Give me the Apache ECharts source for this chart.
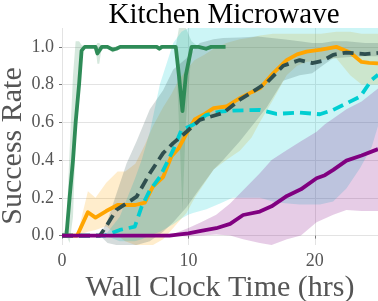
<!DOCTYPE html>
<html><head><meta charset="utf-8">
<script src="https://cdn.jsdelivr.net/npm/echarts@6/dist/echarts.min.js"></script>
<style>html,body{margin:0;padding:0;background:#fff}#c{width:378px;height:301px}</style>
</head><body><div id="c"></div>
<script>
// ---- data ----
const titleText = "Kitchen Microwave";
const xName = "Wall Clock Time (hrs)";
const yName = "Success Rate";
const yTicks = [0, 0.2, 0.4, 0.6, 0.8, 1.0];
const xTicks = [0, 10, 20];

const greenX     = [0, 0.35, 0.6, 0.87, 1.08, 1.35, 1.55, 1.8, 2.3, 2.65, 2.8, 2.95, 3.15, 3.6, 4.0, 4.3, 4.6, 5.5, 6.5, 7.5, 7.7, 7.9, 8.5, 9.0, 9.25, 9.53, 9.8, 10.25, 10.8, 11.4, 11.8, 12.94];
const greenMean  = [0, 0, 0.2, 0.4, 0.6, 0.8, 0.98, 1.0, 1.0, 1.0, 0.965, 0.965, 1.0, 1.0, 0.985, 0.99, 1.0, 1.0, 1.0, 1.0, 0.99, 1.0, 1.0, 1.0, 0.85, 0.66, 0.85, 1.0, 1.0, 0.99, 1.0, 1.0];
const greenLower = [0, 0, -0.04, 0.1, 0.5, 0.72, 0.95, 1.0, 1.0, 1.0, 0.91, 0.91, 1.0, 1.0, 0.97, 0.98, 1.0, 1.0, 1.0, 1.0, 0.98, 1.0, 1.0, 1.0, 0.6, 0.13, 0.6, 0.98, 1.0, 0.98, 1.0, 1.0];
const greenUpper = [0, 0.05, 0.45, 0.85, 1.03, 1.03, 1.01, 1.0, 1.0, 1.0, 1.02, 1.02, 1.0, 1.0, 1.0, 1.0, 1.0, 1.0, 1.0, 1.0, 1.0, 1.0, 1.0, 1.0, 1.1, 1.1, 1.1, 1.03, 1.0, 1.0, 1.0, 1.0];

const orangeX     = [0, 1.2, 2.05, 2.65, 3.5, 4.4, 5.0, 5.8, 6.55, 7.2, 8.0, 8.66, 9.2, 9.85, 10.5, 11.3, 12.0, 13.0, 14.07, 15.0, 15.65, 16.7, 17.77, 18.6, 19.35, 20.5, 21.7, 22.8, 23.7, 24.3, 25];
const orangeMean  = [0, 0, 0.124, 0.095, 0.13, 0.162, 0.162, 0.162, 0.175, 0.26, 0.31, 0.42, 0.46, 0.54, 0.615, 0.645, 0.675, 0.684, 0.728, 0.76, 0.78, 0.86, 0.93, 0.96, 0.975, 0.985, 1.0, 0.97, 0.92, 0.915, 0.912];
const orangeLower = [0, 0, 0.02, 0.03, 0.05, 0.0, -0.03, -0.05, -0.05, -0.05, -0.02, 0.03, 0.07, 0.12, 0.2, 0.28, 0.35, 0.4, 0.45, 0.52, 0.6, 0.72, 0.85, 0.9, 0.92, 0.93, 0.94, 0.85, 0.8, 0.8, 0.8];
const orangeUpper = [0, 0, 0.235, 0.2, 0.28, 0.34, 0.34, 0.38, 0.48, 0.58, 0.68, 0.75, 0.82, 0.88, 0.93, 0.96, 0.99, 1.02, 1.04, 1.05, 1.06, 1.07, 1.07, 1.07, 1.07, 1.07, 1.08, 1.08, 1.07, 1.07, 1.07];

const slateX     = [0, 3.0, 3.6, 4.3, 5.1, 5.9, 6.95, 8.0, 8.8, 9.85, 10.9, 12.0, 12.75, 14.07, 15.5, 16.2, 17.5, 18.8, 19.8, 20.6, 21.45, 22.5, 23.97, 25];
const slateMean  = [0, 0, 0.06, 0.136, 0.17, 0.206, 0.33, 0.437, 0.49, 0.55, 0.613, 0.635, 0.65, 0.72, 0.78, 0.81, 0.9, 0.93, 0.914, 0.925, 0.958, 0.97, 0.962, 0.968];
const slateLower = [0, 0, -0.04, -0.05, -0.05, -0.05, -0.03, 0.02, 0.07, 0.15, 0.25, 0.35, 0.4, 0.5, 0.62, 0.68, 0.82, 0.85, 0.86, 0.9, 0.94, 0.945, 0.95, 0.95];
const slateUpper = [0, 0, 0.08, 0.22, 0.38, 0.5, 0.67, 0.77, 0.88, 0.94, 1.02, 1.04, 1.047, 1.05, 1.055, 1.05, 1.04, 1.03, 1.02, 1.02, 1.03, 1.03, 1.02, 1.02];

const cyanX     = [0, 3.4, 4.57, 5.76, 6.3, 6.95, 7.74, 8.8, 9.45, 9.98, 10.37, 11.43, 12.5, 13.5, 15.65, 16.97, 18.8, 20.4, 21.45, 22.5, 23.6, 24.5, 25];
const cyanMean  = [0, 0, 0.03, 0.047, 0.153, 0.24, 0.31, 0.454, 0.56, 0.575, 0.587, 0.64, 0.657, 0.662, 0.666, 0.645, 0.652, 0.643, 0.666, 0.7, 0.737, 0.825, 0.852];
const cyanLower = [0, 0, -0.03, -0.03, -0.02, 0.0, 0.02, 0.06, 0.09, 0.11, 0.12, 0.14, 0.17, 0.2, 0.2, 0.175, 0.165, 0.165, 0.18, 0.25, 0.36, 0.47, 0.58];
const cyanUpper = [0, 0, 0.1, 0.3, 0.4, 0.55, 0.8, 1.02, 1.08, 1.1, 1.1, 1.1, 1.1, 1.1, 1.1, 1.1, 1.1, 1.1, 1.1, 1.1, 1.1, 1.1, 1.1];

const purpleX     = [0, 8.5, 10.0, 11.0, 12.2, 13.3, 14.33, 15.65, 16.58, 17.8, 18.9, 20.14, 20.8, 21.46, 22.5, 23.7, 25];
const purpleMean  = [0, 0, 0.012, 0.025, 0.039, 0.062, 0.109, 0.127, 0.155, 0.21, 0.245, 0.304, 0.32, 0.348, 0.397, 0.424, 0.458];
const purpleLower = [0, 0, -0.005, 0.0, 0.005, 0.0, -0.02, -0.04, -0.05, -0.02, 0.0, 0.07, 0.09, 0.11, 0.136, 0.13, 0.13];
const purpleUpper = [0, 0, 0.04, 0.07, 0.11, 0.17, 0.24, 0.33, 0.4, 0.454, 0.5, 0.55, 0.59, 0.62, 0.67, 0.71, 0.78];

// ---- chart ----
const SERIF = '"Liberation Serif", "DejaVu Serif", serif';
const GREY = '#555555';
const groups = [
  {name:'green',  color:'#2e8b57', x:greenX,  m:greenMean,  lo:greenLower,  hi:greenUpper,  dash:false},
  {name:'orange', color:'#ffa500', x:orangeX, m:orangeMean, lo:orangeLower, hi:orangeUpper, dash:false},
  {name:'cyan',   color:'#00ced1', x:cyanX,   m:cyanMean,   lo:cyanLower,   hi:cyanUpper,   dash:true},
  {name:'slate',  color:'#2f4f4f', x:slateX,  m:slateMean,  lo:slateLower,  hi:slateUpper,  dash:true},
  {name:'purple', color:'#800080', x:purpleX, m:purpleMean, lo:purpleLower, hi:purpleUpper, dash:false}
];
const zip = (a, b) => a.map((v, i) => [v, b[i]]);

const series = [];
groups.forEach(g => {
  series.push({
    type: 'custom', name: g.name + ' band', silent: true, clip: true, z: 1,
    data: zip(g.x, g.m),
    renderItem: function (params, api) {
      if (params.dataIndex !== 0) return null;
      const pts = [];
      for (let i = 0; i < g.x.length; i++) pts.push(api.coord([g.x[i], g.hi[i]]));
      for (let i = g.x.length - 1; i >= 0; i--) pts.push(api.coord([g.x[i], g.lo[i]]));
      return {type: 'polygon', shape: {points: pts}, style: {fill: g.color, opacity: 0.2}};
    }
  });
});
const lineOrder = ['orange', 'cyan', 'slate', 'green', 'purple'];
lineOrder.forEach((n, k) => {
  const g = groups.find(q => q.name === n);
  series.push({
    type: 'line', name: n, data: zip(g.x, g.m), symbol: 'none', z: 3 + k,
    lineStyle: {color: g.color, width: 3.8, type: g.dash ? [11, 6] : 'solid', cap: 'butt', join: 'round'},
    animation: false
  });
});

const chart = echarts.init(document.getElementById('c'), null, {renderer: 'canvas'});
chart.setOption({
  animation: false,
  backgroundColor: '#ffffff',
  title: {text: titleText, left: 219, top: -4, textAlign: 'center',
    textStyle: {fontFamily: SERIF, fontSize: 29, fontWeight: 'normal', color: '#000'}},
  graphic: [{
    type: 'text', x: 13, y: 146, rotation: Math.PI / 2, silent: true,
    style: {text: yName, fontFamily: SERIF, fontSize: 30, fill: GREY, align: 'center', verticalAlign: 'middle'}
  }],
  grid: {left: 62, right: 0, top: 28, bottom: 56, containLabel: false, outerBoundsMode: 'none'},
  xAxis: {
    type: 'value', min: 0, max: 25, interval: 10,
    name: xName, nameLocation: 'middle', nameGap: 28, nameMoveOverlap: false,
    nameTextStyle: {fontFamily: SERIF, fontSize: 30, color: GREY},
    axisLine: {show: false},
    axisTick: {show: true, length: 3, lineStyle: {color: '#777'}, customValues: xTicks},
    axisLabel: {fontFamily: SERIF, fontSize: 18, color: GREY, margin: 7, customValues: xTicks},
    splitLine: {show: true, lineStyle: {color: '#e3e3e3', width: 1}}
  },
  yAxis: {
    type: 'value', min: -0.05, max: 1.1,
    axisLine: {show: false},
    axisTick: {show: true, length: 3, lineStyle: {color: '#777'}, customValues: yTicks},
    axisLabel: {fontFamily: SERIF, fontSize: 18, color: GREY, margin: 8, customValues: yTicks,
      formatter: v => v.toFixed(1)},
    splitLine: {show: true, lineStyle: {color: '#e3e3e3', width: 1}}
  },
  series: series
});
</script></body></html>
